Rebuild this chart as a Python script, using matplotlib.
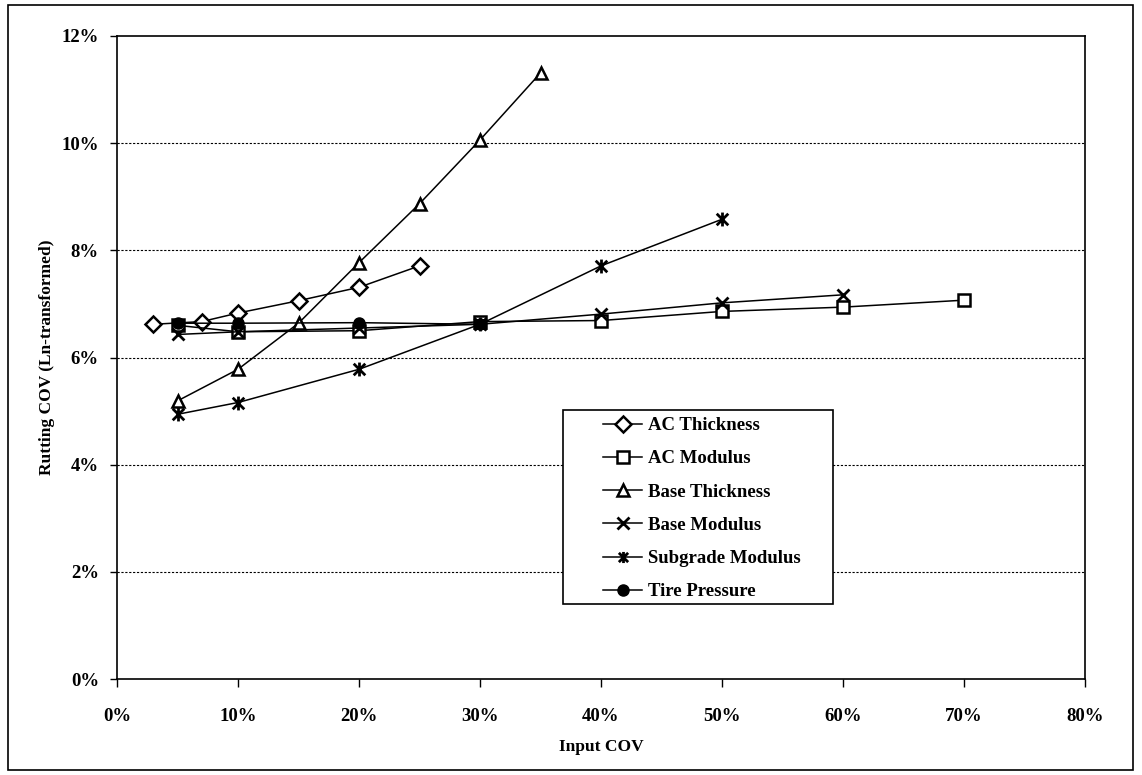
import matplotlib
matplotlib.use("Agg")
import matplotlib.pyplot as plt
from matplotlib.path import Path
from matplotlib.patches import Rectangle
from matplotlib.ticker import PercentFormatter

# ---- data (percent) ----
ac_thk_x = [3, 7, 10, 15, 20, 25]
ac_thk_y = [6.62, 6.67, 6.83, 7.06, 7.31, 7.71]
ac_mod_x = [5, 10, 20, 30, 40, 50, 60, 70]
ac_mod_y = [6.60, 6.48, 6.50, 6.67, 6.69, 6.86, 6.94, 7.07]
base_thk_x = [5, 10, 15, 20, 25, 30, 35]
base_thk_y = [5.19, 5.78, 6.64, 7.77, 8.87, 10.06, 11.31]
base_mod_x = [5, 10, 20, 30, 40, 50, 60]
base_mod_y = [6.43, 6.48, 6.55, 6.62, 6.81, 7.02, 7.17]
sub_mod_x = [5, 10, 20, 30, 40, 50]
sub_mod_y = [4.94, 5.16, 5.78, 6.62, 7.71, 8.58]
tire_x = [5, 10, 20, 30]
tire_y = [6.64, 6.64, 6.65, 6.62]

labels = ["AC Thickness", "AC Modulus", "Base Thickness", "Base Modulus",
          "Subgrade Modulus", "Tire Pressure"]
x_ticks = [0, 10, 20, 30, 40, 50, 60, 70, 80]
y_ticks = [0, 2, 4, 6, 8, 10, 12]

plt.rcParams['font.family'] = ['Liberation Serif', 'DejaVu Serif']

# Excel-like star marker: X plus vertical bar
star = Path([(-1, -1), (1, 1), (-1, 1), (1, -1), (0, -1.2), (0, 1.2)],
            [Path.MOVETO, Path.LINETO, Path.MOVETO, Path.LINETO, Path.MOVETO, Path.LINETO])

fig = plt.figure(figsize=(11.42, 7.75), dpi=100)
ax = fig.add_axes([117/1142, 1-679/775, (1085-117)/1142, (679-36)/775])

lw = 1.1
ax.plot(ac_thk_x, ac_thk_y, color='black', lw=lw, marker='D', ms=8,
        mfc='white', mec='black', mew=1.8, label=labels[0], zorder=3)
ax.plot(ac_mod_x, ac_mod_y, color='black', lw=lw, marker='s', ms=9,
        mfc='white', mec='black', mew=1.8, label=labels[1], zorder=3)
ax.plot(base_thk_x, base_thk_y, color='black', lw=lw, marker='^', ms=9,
        mfc='white', mec='black', mew=1.8, label=labels[2], zorder=3)
ax.plot(base_mod_x, base_mod_y, color='black', lw=lw, marker='x', ms=9,
        mec='black', mew=2.0, label=labels[3], zorder=3)
ax.plot(sub_mod_x, sub_mod_y, color='black', lw=lw, marker=star, ms=10,
        mec='black', mew=2.0, label=labels[4], zorder=3)
ax.plot(tire_x, tire_y, color='black', lw=lw, marker='o', ms=8,
        mfc='black', mec='black', label=labels[5], zorder=3)

ax.set_xlim(0, 80)
ax.set_ylim(0, 12)
ax.set_xticks(x_ticks)
ax.set_yticks(y_ticks)
ax.xaxis.set_major_formatter(PercentFormatter(decimals=0))
ax.yaxis.set_major_formatter(PercentFormatter(decimals=0))
for gy in y_ticks[1:-1]:
    ax.axhline(gy, color='black', lw=0.8, ls=(0, (2, 1.5)), zorder=1)

ax.tick_params(axis='x', direction='out', length=6, width=1.0, pad=15,
               labelsize=13.5)
ax.tick_params(axis='y', direction='out', length=5, width=1.0, pad=8,
               labelsize=13.5)
for lab in ax.get_xticklabels() + ax.get_yticklabels():
    lab.set_fontweight('bold')
for s in ax.spines.values():
    s.set_linewidth(1.2)
    s.set_color('black')

ax.set_xlabel("Input COV", fontsize=12.5, fontweight='bold')
ax.set_ylabel("Rutting COV (Ln-transformed)", fontsize=12.5, fontweight='bold')
ax.xaxis.set_label_coords(0.5, -0.094)
ax.yaxis.set_label_coords(-0.064, 0.5)

# legend box
x0 = (563-117)/968
x1 = (833-117)/968
y0 = (679-604)/643
y1 = (679-410)/643
box = Rectangle((x0, y0), x1-x0, y1-y0, transform=ax.transAxes,
                facecolor='white', edgecolor='black', lw=1.2, zorder=5)
ax.add_patch(box)
leg = ax.legend(loc='upper left', bbox_to_anchor=((603-117)/968, (679-417)/643),
                frameon=False, borderpad=0, borderaxespad=0,
                labelspacing=0.86, handlelength=2.1, handletextpad=0.3,
                prop={'weight': 'bold', 'size': 13.5})
leg.set_zorder(6)
for h in leg.legend_handles:
    h.set_markersize(8)

# outer frame
fig.patches.append(Rectangle((8/1142, 5/775), (1133-8)/1142, (770-5)/775,
                             transform=fig.transFigure, fill=False,
                             edgecolor='black', lw=1.2))

fig.savefig("out.png", dpi=100)
